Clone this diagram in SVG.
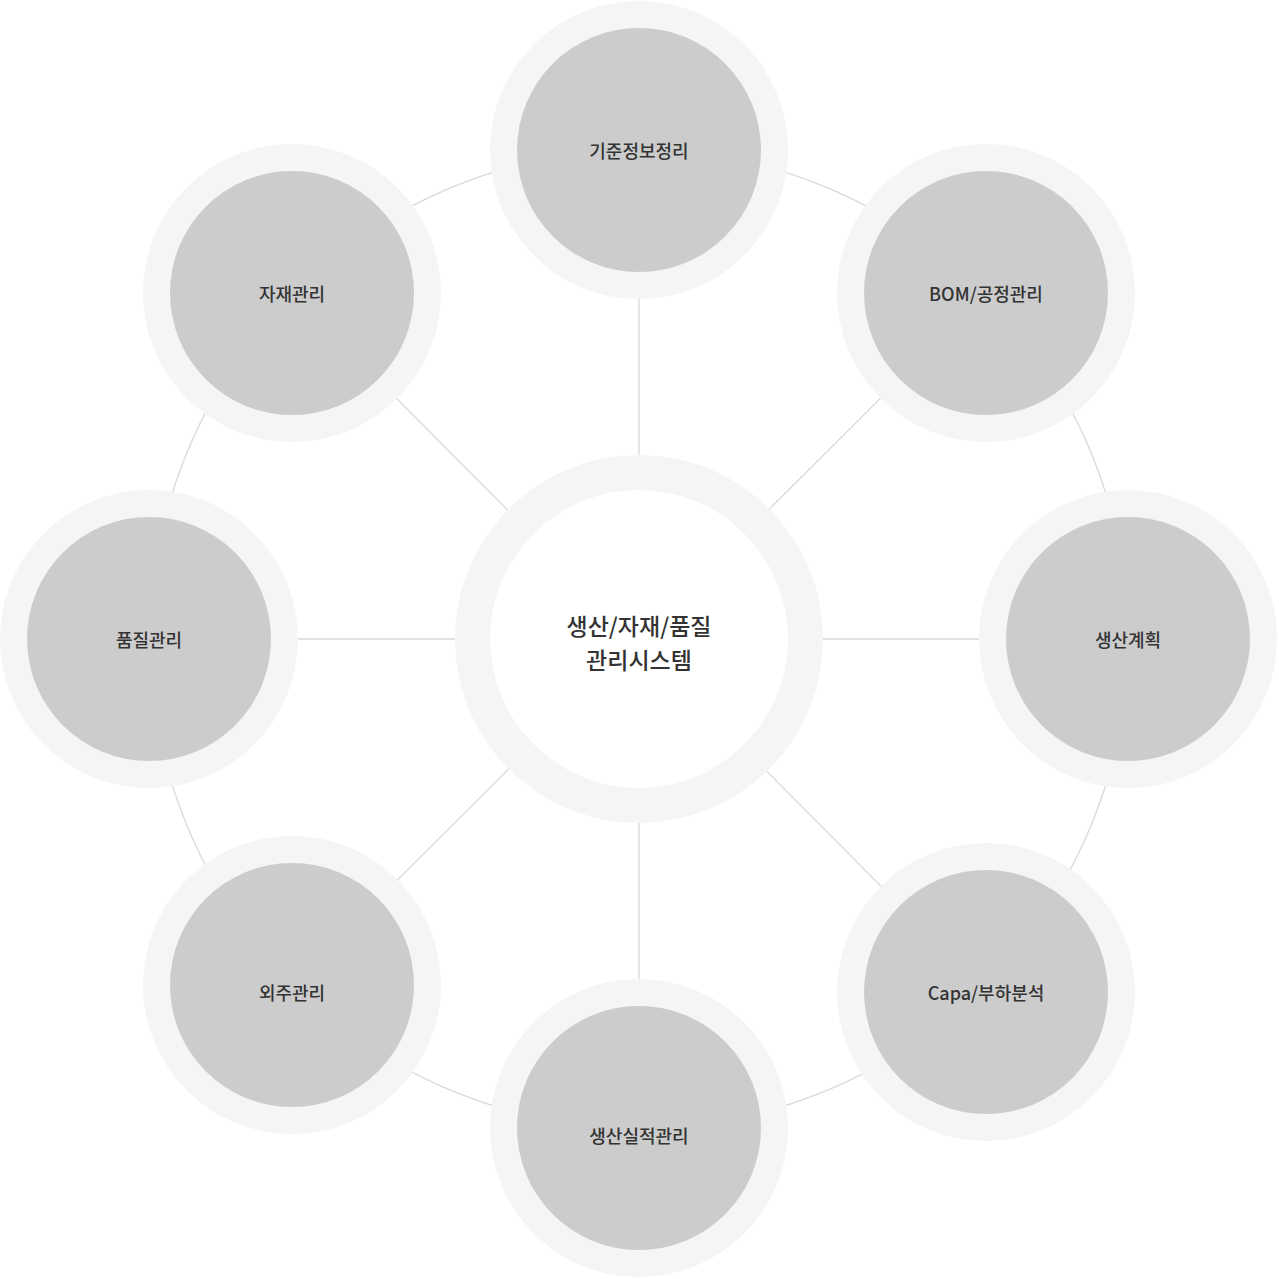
<svg xmlns="http://www.w3.org/2000/svg" width="1279" height="1279" viewBox="0 0 1279 1279">
<style>
.ln{stroke:#d9d9d9;stroke-width:1.3;fill:none}
.ring{fill:#f5f5f5}
.in{fill:#cccccc}
.t{font-family:"Noto Sans CJK KR","Noto Sans",sans-serif;font-size:18px;font-weight:500;fill:#333;text-anchor:middle;dominant-baseline:central}
.c{font-size:23px}
</style>
<rect width="1279" height="1279" fill="#fff"/>
<g id="connectors">
<circle class="ln" cx="639" cy="639" r="489"/>
<line class="ln" x1="639" y1="150" x2="639" y2="1128"/>
<line class="ln" x1="149" y1="639" x2="1128" y2="639"/>
<line class="ln" x1="292" y1="293" x2="986" y2="992"/>
<line class="ln" x1="986" y1="293" x2="292" y2="985"/>
</g>
<g id="center"><circle class="ring" cx="639" cy="639" r="184"/><circle fill="#fff" cx="639" cy="639" r="149"/>
<text class="t c" x="639" y="625">생산/자재/품질</text><text class="t c" x="639" y="659">관리시스템</text></g>
<g id="n1"><circle class="ring" cx="639" cy="150" r="149"/><circle class="in" cx="639" cy="150" r="122"/><text class="t" x="639" y="150">기준정보정리</text></g>
<g id="n2"><circle class="ring" cx="986" cy="293" r="149"/><circle class="in" cx="986" cy="293" r="122"/><text class="t" x="986" y="293">BOM/공정관리</text></g>
<g id="n3"><circle class="ring" cx="1128" cy="639" r="149"/><circle class="in" cx="1128" cy="639" r="122"/><text class="t" x="1128" y="639">생산계획</text></g>
<g id="n4"><circle class="ring" cx="986" cy="992" r="149"/><circle class="in" cx="986" cy="992" r="122"/><text class="t" x="986" y="992">Capa/부하분석</text></g>
<g id="n5"><circle class="ring" cx="639" cy="1128" r="149"/><circle class="in" cx="639" cy="1128" r="122"/><text class="t" x="639" y="1135">생산실적관리</text></g>
<g id="n6"><circle class="ring" cx="292" cy="985" r="149"/><circle class="in" cx="292" cy="985" r="122"/><text class="t" x="292" y="992">외주관리</text></g>
<g id="n7"><circle class="ring" cx="149" cy="639" r="149"/><circle class="in" cx="149" cy="639" r="122"/><text class="t" x="149" y="639">품질관리</text></g>
<g id="n8"><circle class="ring" cx="292" cy="293" r="149"/><circle class="in" cx="292" cy="293" r="122"/><text class="t" x="292" y="293">자재관리</text></g>
</svg>
